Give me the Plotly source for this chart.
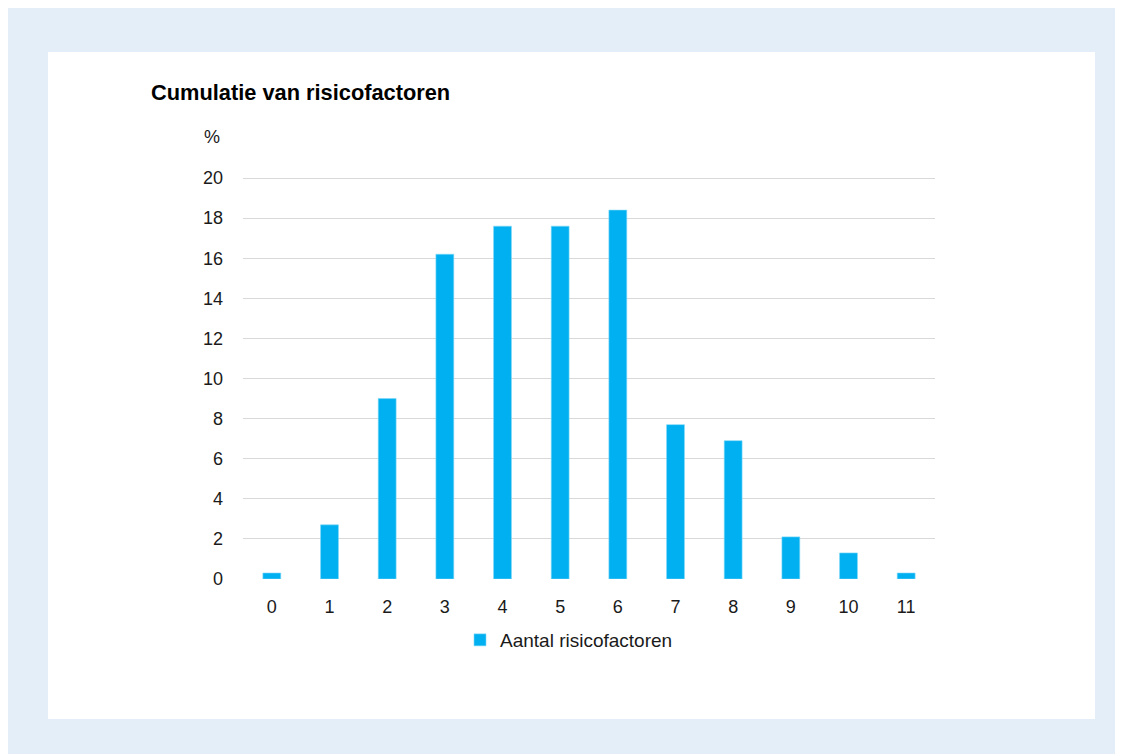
import plotly.graph_objects as go

categories = ["0", "1", "2", "3", "4", "5", "6", "7", "8", "9", "10", "11"]
values = [0.3, 2.7, 9.0, 16.2, 17.6, 17.6, 18.4, 7.7, 6.9, 2.1, 1.3, 0.3]
series_name = "Aantal risicofactoren"
y_ticks = [0, 2, 4, 6, 8, 10, 12, 14, 16, 18, 20]

W, H = 1123, 754
# figure coordinates (page is offset by 8px body margin)
# y range extends to 21 so the 20 gridline is drawn inside the plot area
L, R, T, B = 235, 927, 150, 571
pw, ph = R - L, B - T

def px(x):
    return (x - L) / pw

def py(y):
    return (B - y) / ph

font = "Liberation Sans, Arial, sans-serif"

fig = go.Figure()
fig.add_trace(go.Bar(
    x=categories, y=values, name=series_name,
    marker=dict(color="#00B0F0", line=dict(color="#7FD8F8", width=0.6)),
    showlegend=True,
))

fig.update_layout(
    width=W, height=H,
    margin=dict(l=L, r=W - R, t=T, b=H - B, pad=0),
    paper_bgcolor="#E4EEF8",
    plot_bgcolor="rgba(0,0,0,0)",
    bargap=0.69,
    font=dict(family=font, size=18, color="#1a1a1a"),
    xaxis=dict(type="category", showgrid=False, zeroline=False, showline=False,
               ticks="", ticklabelstandoff=15, tickfont=dict(size=18, color="#1a1a1a")),
    yaxis=dict(range=[0, 21], tickvals=y_ticks, showgrid=True, gridcolor="#D9D9D9",
               gridwidth=1, zeroline=False, showline=False, ticks="",
               ticklabelstandoff=19, tickfont=dict(size=18, color="#1a1a1a")),
    showlegend=True,
    legend=dict(orientation="h", x=px(452), y=py(632), xanchor="left", yanchor="middle",
                font=dict(size=19, color="#1a1a1a"), itemwidth=30,
                bgcolor="rgba(0,0,0,0)"),
    shapes=[
        dict(type="rect", xref="paper", yref="paper", layer="below",
             x0=px(40), x1=px(1087), y0=py(44), y1=py(711),
             fillcolor="white", line=dict(width=0)),
    ],
    annotations=[
        dict(text="<b>Cumulatie van risicofactoren</b>", xref="paper", yref="paper",
             x=px(141), y=py(85), xanchor="left", yanchor="middle", showarrow=False,
             font=dict(size=21.8, color="#000000")),
        dict(text="%", xref="paper", yref="paper",
             x=px(204), y=py(129), xanchor="center", yanchor="middle", showarrow=False,
             font=dict(size=18, color="#1a1a1a")),
    ],
)

fig.write_html("out.html")
